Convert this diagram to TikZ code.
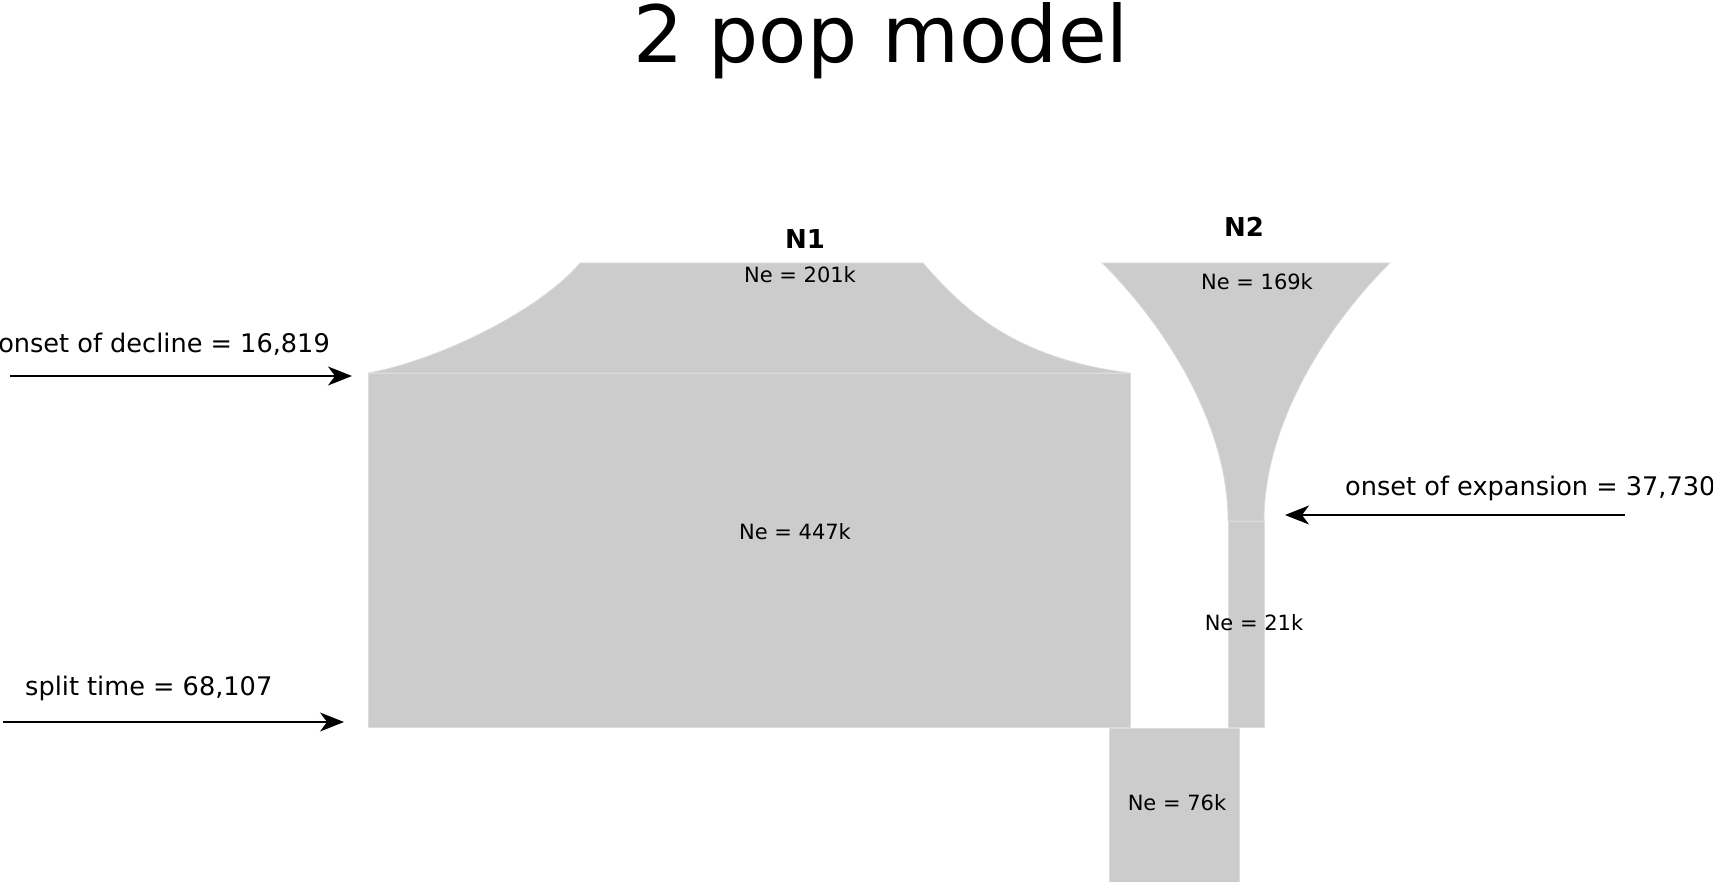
\documentclass[tikz,border=0pt]{standalone}
\usepackage{fontspec}
\setmainfont{DejaVu Sans}
\usetikzlibrary{arrows.meta}
\definecolor{popfill}{HTML}{CCCCCC}
\definecolor{seam}{HTML}{DCDCDC}
\tikzset{
  pop/.style={fill=popfill, draw=seam, line width=0.7pt},
  title/.style={inner sep=0pt, anchor=base, font=\fontsize{79}{95}\selectfont},
  poplabel/.style={inner sep=0pt, anchor=base, font=\fontsize{26}{31}\selectfont\bfseries},
  nelabel/.style={inner sep=0pt, anchor=base, font=\fontsize{21}{25}\selectfont},
  evlabel/.style={inner sep=0pt, font=\fontsize{25.6}{30}\selectfont},
  evarrow/.style={line width=1.3pt, -{Stealth[length=24pt,width=19pt,inset=7pt]}}
}
\begin{document}
\begin{tikzpicture}[x=1pt,y=-1pt]
\useasboundingbox (0,0) rectangle (1713,882);
% title
\node[title] (title) at (881,63) {2 pop model};
% N1 shapes
\path[pop] (368,373) .. controls (440,360) and (540,310) .. (580,263)
  -- (923,263) .. controls (960,305) and (1010,358) .. (1130,373) -- cycle;
\path[pop] (368,373) rectangle (1130,727);
% ancestral
\path[pop] (1109,728) rectangle (1239,882);
% N2 shapes
\path[pop] (1102,263) -- (1390,263)
  .. controls (1332,320) and (1264,420) .. (1264,521)
  -- (1228,521) .. controls (1228,420) and (1160,320) .. (1102,263) -- cycle;
\path[pop] (1228,521) rectangle (1264,727);
% labels
\node[poplabel] (n1) at (805,249) {N1};
\node[poplabel] (n2) at (1244,237) {N2};
\node[nelabel] (ne201) at (800,283) {Ne = 201k};
\node[nelabel] (ne169) at (1257,290) {Ne = 169k};
\node[nelabel] (ne447) at (795,539) {Ne = 447k};
\node[nelabel] (ne21) at (1254,630) {Ne = 21k};
\node[nelabel] (ne76) at (1177,810) {Ne = 76k};
% events
\node[evlabel, anchor=base east] (decl) at (330,353) {onset of decline = 16,819};
\node[evlabel, anchor=base west] (split) at (25,695) {split time = 68,107};
\node[evlabel, anchor=base west] (expa) at (1345,495) {onset of expansion = 37,730};
\coordinate (declA) at (10,376);
\coordinate (declB) at (352,376);
\coordinate (splitA) at (3,722);
\coordinate (splitB) at (344,722);
\coordinate (expaA) at (1625,515);
\coordinate (expaB) at (1285,515);
\draw[evarrow] (declA) -- (declB);
\draw[evarrow] (splitA) -- (splitB);
\draw[evarrow] (expaA) -- (expaB);
\end{tikzpicture}
\end{document}
